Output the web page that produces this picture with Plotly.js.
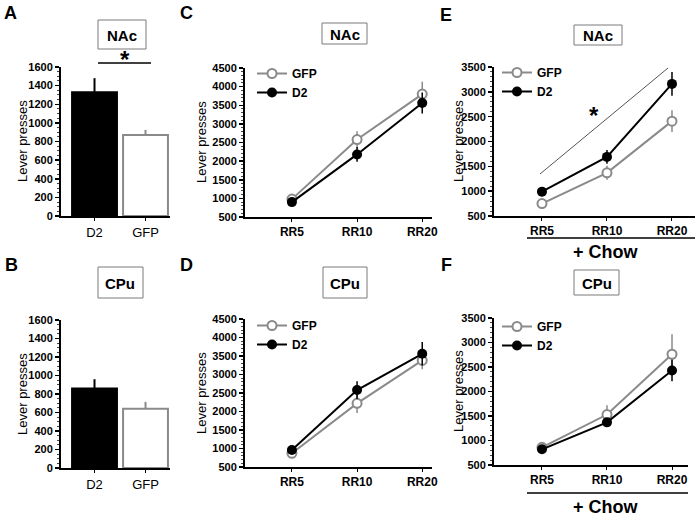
<!DOCTYPE html>
<html>
<head>
<meta charset="utf-8">
<script src="https://cdn.plot.ly/plotly-3.0.1.min.js"></script>
<style>html,body{margin:0;padding:0;background:#fff}</style>
</head>
<body>
<div id="chart" style="width:695px;height:518px"></div>
<script>
// ---------- data ----------
const barGroups = ["D2", "GFP"];
const nacBarValues = [1330, 870];
const nacBarErrors = [150, 55];
const cpuBarValues = [860, 640];
const cpuBarErrors = [100, 75];

const schedules = ["RR5", "RR10", "RR20"];
// C: NAc
const nacGFP = [980, 2580, 3800];
const nacGFPErr = [60, 220, 330];
const nacD2 = [900, 2180, 3560];
const nacD2Err = [50, 200, 280];
// D: CPu
const cpuGFP = [870, 2220, 3380];
const cpuGFPErr = [50, 260, 240];
const cpuD2 = [960, 2580, 3560];
const cpuD2Err = [50, 240, 320];
// E: NAc + Chow
const nacChowGFP = [750, 1370, 2410];
const nacChowGFPErr = [60, 140, 220];
const nacChowD2 = [990, 1690, 3160];
const nacChowD2Err = [90, 140, 240];
// F: CPu + Chow
const cpuChowGFP = [860, 1530, 2760];
const cpuChowGFPErr = [60, 190, 410];
const cpuChowD2 = [820, 1370, 2430];
const cpuChowD2Err = [50, 70, 220];

// ---------- helpers ----------
const W = 695, H = 518;
const X = p => p / W;
const Y = p => 1 - p / H;
const FONT = "Liberation Sans, Arial, sans-serif";
const GRAY = "#8a8a8a";

const traces = [];

function addBars(xa, ya, vals, errs) {
  const colors = ["#000000", "#ffffff"];
  const lines = ["#000000", GRAY];
  barGroups.forEach((g, i) => {
    traces.push({
      type: "bar", x: [g], y: [vals[i]], xaxis: xa, yaxis: ya,
      width: 0.88, showlegend: false, hoverinfo: "skip",
      marker: {color: colors[i], line: {color: lines[i], width: 2}},
      error_y: {type: "data", symmetric: false, array: [errs[i]], arrayminus: [0],
                width: 0, thickness: 2, color: lines[i]}
    });
  });
}

function addLines(xa, ya, gfp, gfpErr, d2, d2Err, legendId) {
  traces.push({
    type: "scatter", mode: "lines+markers", name: "GFP", x: schedules, y: gfp,
    xaxis: xa, yaxis: ya, legend: legendId, cliponaxis: false,
    line: {color: GRAY, width: 2},
    marker: {symbol: "circle", size: 9, color: "#ffffff", line: {color: GRAY, width: 2}},
    error_y: {type: "data", array: gfpErr, width: 0, thickness: 1.5, color: GRAY}
  });
  traces.push({
    type: "scatter", mode: "lines+markers", name: "D2", x: schedules, y: d2,
    xaxis: xa, yaxis: ya, legend: legendId, cliponaxis: false,
    line: {color: "#000000", width: 2},
    marker: {symbol: "circle", size: 10, color: "#000000"},
    error_y: {type: "data", array: d2Err, width: 0, thickness: 1.5, color: "#000000"}
  });
}

addBars("x", "y", nacBarValues, nacBarErrors);
addBars("x2", "y2", cpuBarValues, cpuBarErrors);
addLines("x3", "y3", nacGFP, nacGFPErr, nacD2, nacD2Err, "legend");
addLines("x4", "y4", cpuGFP, cpuGFPErr, cpuD2, cpuD2Err, "legend2");
addLines("x5", "y5", nacChowGFP, nacChowGFPErr, nacChowD2, nacChowD2Err, "legend3");
addLines("x6", "y6", cpuChowGFP, cpuChowGFPErr, cpuChowD2, cpuChowD2Err, "legend4");

function xAxis(domain, range, anchor, bold) {
  return {
    domain: domain, range: range, anchor: anchor, type: "category",
    showline: true, linecolor: "#000", linewidth: 2, showgrid: false, zeroline: false,
    ticks: "outside", ticklen: 3, tickwidth: 1, tickcolor: "#000",
    tickfont: {family: FONT, size: bold ? 12 : 13, color: "#000", weight: bold ? "bold" : "normal"},
    fixedrange: true
  };
}
function yAxis(domain, range, dtick, minor, anchor) {
  return {
    domain: domain, range: range, dtick: dtick, anchor: anchor,
    showline: true, linecolor: "#000", linewidth: 2, showgrid: false, zeroline: false,
    ticks: "outside", ticklen: 4, tickwidth: 1.5, tickcolor: "#000",
    minor: {dtick: minor, ticks: "outside", ticklen: 2, tickwidth: 1, tickcolor: "#444"},
    tickfont: {family: FONT, size: 11, color: "#000", weight: "bold"},
    fixedrange: true
  };
}

const layout = {
  width: W, height: H,
  margin: {l: 0, r: 0, t: 0, b: 0},
  paper_bgcolor: "#fff", plot_bgcolor: "rgba(0,0,0,0)",
  font: {family: FONT, color: "#000"},
  barmode: "overlay",
  xaxis: xAxis([X(61), X(170)], [-0.657, 1.48], "y", false),
  yaxis: yAxis([Y(216), Y(67)], [0, 1600], 200, 50, "x"),
  xaxis2: xAxis([X(61), X(170)], [-0.657, 1.48], "y2", false),
  yaxis2: yAxis([Y(468), Y(320)], [0, 1600], 200, 50, "x2"),
  xaxis3: xAxis([X(245), X(432)], [-0.72, 2.15], "y3", true),
  yaxis3: yAxis([Y(217), Y(68)], [500, 4500], 500, 100, "x3"),
  xaxis4: xAxis([X(245), X(432)], [-0.72, 2.15], "y4", true),
  yaxis4: yAxis([Y(467), Y(319)], [500, 4500], 500, 100, "x4"),
  xaxis5: xAxis([X(494), 1], [-0.738, 2.354], "y5", true),
  yaxis5: yAxis([Y(216), Y(67)], [500, 3500], 500, 100, "x5"),
  xaxis6: xAxis([X(494), X(688)], [-0.738, 2.246], "y6", true),
  yaxis6: yAxis([Y(465), Y(318)], [500, 3500], 500, 100, "x6"),
  shapes: [], annotations: []
};

function legendAt(px, py) {
  return {x: X(px), y: Y(py), xanchor: "left", yanchor: "top",
          bgcolor: "rgba(0,0,0,0)", borderwidth: 0, tracegroupgap: 0,
          itemwidth: 30,
          font: {family: FONT, size: 12, color: "#000", weight: "bold"}};
}
layout.legend = legendAt(252, 59);
layout.legend2 = legendAt(252, 311);
layout.legend3 = legendAt(497, 58);
layout.legend4 = legendAt(497, 312);

// panel letters
[["A", 10, 13], ["B", 11, 265], ["C", 186, 13], ["D", 186, 265], ["E", 446, 15], ["F", 446, 265]]
  .forEach(([t, px, py]) => layout.annotations.push({
    text: t, x: X(px), y: Y(py), xref: "paper", yref: "paper", showarrow: false,
    xanchor: "center", yanchor: "middle",
    font: {family: FONT, size: 18, weight: "bold", color: "#000"}
  }));

// region boxes
[["NAc", 98, 146, 20, 49], ["CPu", 98, 143, 267, 298], ["NAc", 322, 367, 23, 44],
 ["CPu", 323, 367, 267, 298], ["NAc", 574, 622, 25, 45], ["CPu", 574, 619, 270, 295]]
  .forEach(([t, x0, x1, y0, y1]) => {
    layout.shapes.push({type: "rect", xref: "paper", yref: "paper",
      x0: X(x0), x1: X(x1), y0: Y(y1), y1: Y(y0), line: {color: "#7a7a7a", width: 1}});
    layout.annotations.push({text: t, x: X((x0 + x1) / 2), y: Y((y0 + y1) / 2 + 1),
      xref: "paper", yref: "paper", showarrow: false, xanchor: "center", yanchor: "middle",
      font: {family: FONT, size: 15, weight: "bold", color: "#000"}});
  });

// y titles
[[22, 141], [22, 394], [201, 142], [201, 393], [458, 141], [458, 391]].forEach(([px, py]) =>
  layout.annotations.push({text: "Lever presses", x: X(px), y: Y(py), xref: "paper", yref: "paper",
    showarrow: false, textangle: -90, xanchor: "center", yanchor: "middle",
    font: {family: FONT, size: 13, color: "#000"}}));

// significance marks
layout.shapes.push({type: "line", xref: "paper", yref: "paper", x0: X(98), x1: X(151), y0: Y(63), y1: Y(63),
  line: {color: "#000", width: 1.5}});
layout.annotations.push({text: "*", x: X(125), y: Y(60), xref: "paper", yref: "paper", showarrow: false,
  xanchor: "center", yanchor: "middle", font: {family: FONT, size: 24, weight: "bold", color: "#000"}});
layout.shapes.push({type: "line", xref: "paper", yref: "paper", x0: X(540), x1: X(668), y0: Y(174), y1: Y(68),
  line: {color: "#555", width: 1}});
layout.annotations.push({text: "*", x: X(594), y: Y(115), xref: "paper", yref: "paper", showarrow: false,
  xanchor: "center", yanchor: "middle", font: {family: FONT, size: 24, weight: "bold", color: "#000"}});

// + Chow labels
[[238, 695, 252], [493, 688, 507]].forEach(([ly, x1, ty]) => {
  layout.shapes.push({type: "line", xref: "paper", yref: "paper", x0: X(527), x1: X(x1), y0: Y(ly), y1: Y(ly),
    line: {color: "#000", width: 1.5}});
  layout.annotations.push({text: "+ Chow", x: X(606), y: Y(ty), xref: "paper", yref: "paper", showarrow: false,
    xanchor: "center", yanchor: "middle", font: {family: FONT, size: 18, weight: "bold", color: "#000"}});
});

Plotly.newPlot("chart", traces, layout, {staticPlot: true, displayModeBar: false});
</script>
</body>
</html>
